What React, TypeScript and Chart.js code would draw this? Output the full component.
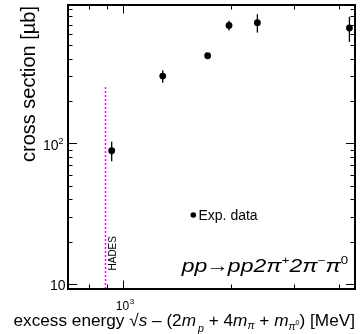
import React, { useEffect, useRef } from 'react';
import { Chart, registerables } from 'chart.js';

Chart.register(...registerables);

// ---- data ----
const excessEnergy = [927, 1287, 1718, 1971, 2365, 4274]; // MeV
const crossSection = [88.6, 301, 420, 691, 722, 662]; // µb
const crossSectionErr = [14, 31, 0, 56, 108, 134]; // µb

const xMin = 700;
const xMax = 4430;
const yMin = 9.2;
const yMax = 965;

const yLabelValues = [10, 100];
const yLabelExps = ['', '2'];
const xLabelValues = [1000];
const xLabelExps = ['3'];

const hadesEnergy = 889;
const hadesTop = 250;

const FONT = '"Liberation Sans", Arial, Helvetica, sans-serif';

type Seg = { t: string; s: number; i?: boolean; dy?: number; dx?: number };

function segWidth(ctx: CanvasRenderingContext2D, seg: Seg) {
  ctx.font = `${seg.i ? 'italic ' : ''}${seg.s}px ${FONT}`;
  return ctx.measureText(seg.t).width + (seg.dx || 0);
}

function drawRich(ctx: CanvasRenderingContext2D, x: number, y: number, segs: Seg[], targetWidth?: number) {
  let total = 0;
  for (const s of segs) total += segWidth(ctx, s);
  const sx = targetWidth ? targetWidth / total : 1;
  ctx.save();
  ctx.translate(x, y);
  ctx.scale(sx, 1);
  let cx = 0;
  ctx.textAlign = 'left';
  ctx.textBaseline = 'alphabetic';
  for (const s of segs) {
    ctx.font = `${s.i ? 'italic ' : ''}${s.s}px ${FONT}`;
    cx += s.dx || 0;
    ctx.fillText(s.t, cx, s.dy || 0);
    cx += ctx.measureText(s.t).width;
  }
  ctx.restore();
}

function decadeTicks(min: number, max: number) {
  const out: { v: number; major: boolean }[] = [];
  const lo = Math.floor(Math.log10(min));
  const hi = Math.ceil(Math.log10(max));
  for (let e = lo; e <= hi; e++) {
    for (let m = 1; m <= 9; m++) {
      const v = m * Math.pow(10, e);
      if (v >= min && v <= max) out.push({ v, major: m === 1 });
    }
  }
  return out;
}

const rootPlugin = {
  id: 'rootStyle',
  beforeDraw(chart: any) {
    const ctx = chart.ctx as CanvasRenderingContext2D;
    ctx.save();
    ctx.fillStyle = '#ffffff';
    ctx.fillRect(0, 0, chart.width, chart.height);
    ctx.restore();
  },
  beforeDatasetsDraw(chart: any) {
    const ctx = chart.ctx as CanvasRenderingContext2D;
    const xs = chart.scales.x;
    const ys = chart.scales.y;
    // HADES dotted line
    ctx.save();
    ctx.strokeStyle = '#ff00ff';
    ctx.lineWidth = 1.5;
    ctx.setLineDash([2, 2]);
    const hx = Math.round(xs.getPixelForValue(hadesEnergy)) + 0.5;
    ctx.beginPath();
    ctx.moveTo(hx, Math.round(ys.getPixelForValue(yMin)));
    ctx.lineTo(hx, Math.round(ys.getPixelForValue(hadesTop)));
    ctx.stroke();
    ctx.restore();
    // error bars
    ctx.save();
    ctx.strokeStyle = '#000';
    ctx.lineWidth = 1.3;
    excessEnergy.forEach((e, k) => {
      const err = crossSectionErr[k];
      if (!err) return;
      const px = xs.getPixelForValue(e);
      ctx.beginPath();
      ctx.moveTo(px, ys.getPixelForValue(crossSection[k] - err));
      ctx.lineTo(px, ys.getPixelForValue(crossSection[k] + err));
      ctx.stroke();
    });
    ctx.restore();
  },
  afterDraw(chart: any) {
    const ctx = chart.ctx as CanvasRenderingContext2D;
    const xs = chart.scales.x;
    const ys = chart.scales.y;
    const a = chart.chartArea;
    ctx.save();
    // frame
    ctx.strokeStyle = '#000';
    ctx.lineWidth = 2;
    ctx.strokeRect(a.left, a.top, a.right - a.left, a.bottom - a.top);
    // y ticks (left and right, inward)
    ctx.lineWidth = 1;
    for (const t of decadeTicks(yMin, yMax)) {
      const py = Math.round(ys.getPixelForValue(t.v)) + 0.5;
      const len = t.major ? 9 : 4.5;
      ctx.beginPath();
      ctx.moveTo(a.left, py);
      ctx.lineTo(a.left + len, py);
      ctx.moveTo(a.right, py);
      ctx.lineTo(a.right - len, py);
      ctx.stroke();
    }
    // x ticks (bottom and top, inward)
    for (const t of decadeTicks(xMin, xMax)) {
      const px = Math.round(xs.getPixelForValue(t.v)) + 0.5;
      const len = t.major ? 8.5 : 4.5;
      ctx.beginPath();
      ctx.moveTo(px, a.bottom);
      ctx.lineTo(px, a.bottom - len);
      ctx.moveTo(px, a.top);
      ctx.lineTo(px, a.top + len);
      ctx.stroke();
    }
    ctx.fillStyle = '#000';
    // y tick labels
    yLabelValues.forEach((v, k) => {
      const py = ys.getPixelForValue(v);
      const exp = yLabelExps[k];
      ctx.font = `14px ${FONT}`;
      const baseW = ctx.measureText('10').width;
      ctx.font = `9px ${FONT}`;
      const expW = exp ? ctx.measureText(exp).width : 0;
      const right = exp ? 63.5 : 65.5;
      const x0 = right - expW - baseW;
      ctx.textBaseline = 'alphabetic';
      ctx.textAlign = 'left';
      ctx.font = `14px ${FONT}`;
      ctx.fillText('10', x0, py + 6.5);
      if (exp) {
        ctx.font = `9px ${FONT}`;
        ctx.fillText(exp, x0 + baseW, py + 0.5);
      }
    });
    // x tick labels
    xLabelValues.forEach((v, k) => {
      const px = xs.getPixelForValue(v);
      ctx.font = `12px ${FONT}`;
      const baseW = ctx.measureText('10').width;
      ctx.textAlign = 'left';
      ctx.textBaseline = 'alphabetic';
      ctx.fillText('10', px - baseW / 2 - 1, 309.5);
      ctx.font = `8px ${FONT}`;
      ctx.fillText(xLabelExps[k], px + baseW / 2 - 0.5, 303.5);
    });
    // HADES label
    ctx.save();
    ctx.translate(115.5, 270.5);
    ctx.rotate(-Math.PI / 2);
    ctx.font = `10px ${FONT}`;
    ctx.textAlign = 'left';
    ctx.textBaseline = 'alphabetic';
    ctx.fillText('HADES', 0, 0);
    ctx.restore();
    // y title
    ctx.save();
    ctx.translate(35, 84);
    ctx.rotate(-Math.PI / 2);
    ctx.font = `20px ${FONT}`;
    ctx.textAlign = 'center';
    ctx.textBaseline = 'alphabetic';
    ctx.fillText('cross section [\u00b5b]', 0, 0);
    ctx.restore();
    // x title
    const F = 17;
    drawRich(
      ctx,
      13.5,
      326,
      [
        { t: 'excess energy ', s: F },
        { t: '\u221a', s: F },
        { t: 's', s: F, i: true },
        { t: ' \u2013 (2', s: F },
        { t: 'm', s: F, i: true },
        { t: 'p', s: 10.5, i: true, dy: 6, dx: 2 },
        { t: ' + 4', s: F },
        { t: 'm', s: F, i: true },
        { t: '\u03c0', s: 10.5, i: true, dy: 3 },
        { t: ' + ', s: F },
        { t: 'm', s: F, i: true },
        { t: '\u03c0', s: 10.5, i: true, dy: 4 },
        { t: '0', s: 7, dy: -1 },
        { t: ') [MeV]', s: F },
      ],
      341.5
    );
    // legend
    ctx.beginPath();
    ctx.arc(193.3, 215, 2.8, 0, Math.PI * 2);
    ctx.fill();
    ctx.font = `14px ${FONT}`;
    ctx.textAlign = 'left';
    ctx.textBaseline = 'alphabetic';
    ctx.fillText('Exp. data', 198.5, 219.5);
    // reaction label
    const R = 19;
    drawRich(
      ctx,
      181.7,
      272,
      [
        { t: 'pp', s: R, i: true },
        { t: '\u2192', s: R, dx: -1 },
        { t: 'pp2\u03c0', s: R, i: true, dx: -1 },
        { t: '+', s: 11, dy: -8 },
        { t: '2\u03c0', s: R, i: true },
        { t: '\u2212', s: 11, dy: -8 },
        { t: '\u03c0', s: R, i: true },
        { t: '0', s: 11, dy: -8 },
      ],
      166.5
    );
    ctx.restore();
  },
};

export default function App() {
  const ref = useRef<HTMLCanvasElement>(null);
  useEffect(() => {
    if (!ref.current) return;
    const chart = new Chart(ref.current, {
      type: 'scatter',
      data: {
        datasets: [
          {
            label: 'Exp. data',
            data: excessEnergy.map((e, k) => ({ x: e, y: crossSection[k] })),
            backgroundColor: '#000',
            borderColor: '#000',
            pointRadius: 3.4,
            pointHoverRadius: 3.4,
            pointBorderWidth: 0,
          },
        ],
      },
      options: {
        responsive: false,
        animation: false,
        devicePixelRatio: 1,
        layout: { padding: { left: 68, top: 5, right: 5, bottom: 45 } },
        plugins: { legend: { display: false }, tooltip: { enabled: false } },
        events: [],
        scales: {
          x: { type: 'logarithmic', min: xMin, max: xMax, display: false },
          y: { type: 'logarithmic', min: yMin, max: yMax, display: false },
        },
      },
      plugins: [rootPlugin],
    });
    return () => chart.destroy();
  }, []);
  return (
    <div style={{ position: 'fixed', left: 0, top: 0, width: 360, height: 334, background: '#fff' }}>
      <canvas ref={ref} width={360} height={334} style={{ width: 360, height: 334, display: 'block' }} />
    </div>
  );
}
